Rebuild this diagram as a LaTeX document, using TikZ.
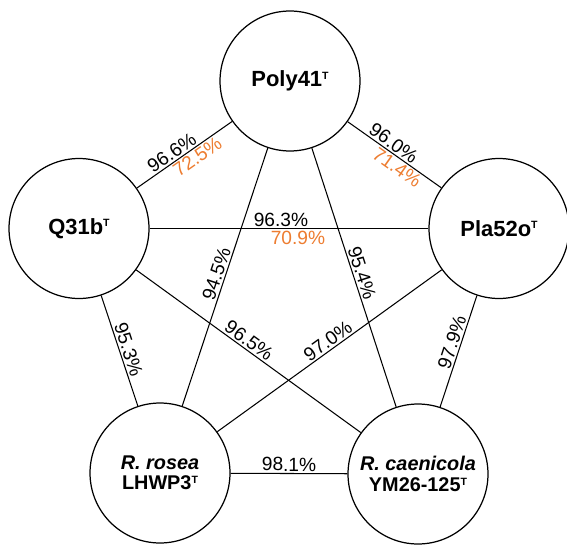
\documentclass[tikz,border=0pt]{standalone}
\usepackage{fontspec}
\setmainfont{Liberation Sans}
\definecolor{idorange}{RGB}{237,125,49}
% superscript "T" marking type strains, top aligned with the capitals
\newcommand{\typestrain}{\raisebox{\dimexpr\fontcharht\font`T-4.3pt\relax}{\fontsize{6}{6}\selectfont T}}

\begin{document}
\begin{tikzpicture}[x=0.02cm, y=-0.02cm,
  strain/.style={circle, draw=black, line width=0.7pt, minimum size=2.8cm,
    inner sep=0pt, align=center, font=\fontsize{12.5}{14}\selectfont\bfseries},
  pairstrain/.style={strain, font=\fontsize{11.3}{11.6}\selectfont\bfseries},
  link/.style={draw=black, line width=0.6pt},
  pct/.style={sloped, inner sep=1pt, font=\fontsize{10.9}{12}\selectfont},
  ani/.style={pct, text=idorange}]
\useasboundingbox (0,0) rectangle (567,544);

% strains
\node[strain] (poly) at (290,81) {Poly41\typestrain};
\node[strain] (q31b) at (79,228.5) {Q31b\typestrain};
\node[strain] (pla) at (499,228.5) {Pla52o\typestrain};
\node[pairstrain] (rosea) at (160,473) {{\itshape R. rosea}\\LHWP3\typestrain};
\node[pairstrain] (caen) at (418,474) {{\itshape R. caenicola}\\YM26-125\typestrain};

% pairwise identities
\path[link] (poly) -- node[pct, pos=0.58, above]{96.6\%}
                     node[ani, pos=0.42, below]{72.5\%} (q31b);
\path[link] (poly) -- node[pct, pos=0.435, above]{96.0\%}
                     node[ani, pos=0.584, below]{71.4\%} (pla);
\path[link] (q31b) -- node[pct, pos=0.471, above]{96.3\%}
                     node[ani, pos=0.532, below]{70.9\%} (pla);
\path[link] (poly) -- node[pct, pos=0.5, above]{94.5\%} (rosea);
\path[link] (poly) -- node[pct, pos=0.494, above]{95.4\%} (caen);
\path[link] (q31b) -- node[pct, pos=0.514, above]{95.3\%} (rosea);
\path[link] (q31b) -- node[pct, pos=0.479, above]{96.5\%} (caen);
\path[link] (pla) -- node[pct, pos=0.484, above]{97.0\%} (rosea);
\path[link] (pla) -- node[pct, pos=0.445, above]{97.9\%} (caen);
\path[link] (rosea) -- node[pct, pos=0.5, above]{98.1\%} (caen);
\end{tikzpicture}
\end{document}
